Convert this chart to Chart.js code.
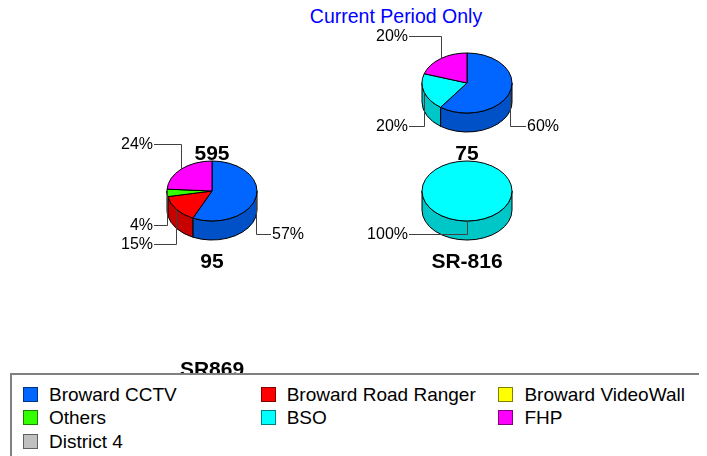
<!DOCTYPE html>
<html>
<head>
<meta charset="utf-8">
<script src="https://cdn.jsdelivr.net/npm/chart.js@4.4.1/dist/chart.umd.min.js"></script>
<style>
  body { margin: 0; background: #fff; font-family: "Liberation Sans", Arial, sans-serif; }
  #stage { position: relative; width: 707px; height: 456px; overflow: hidden; }
  #stage canvas { position: absolute; left: 0; top: 0; }
  #heading { position: absolute; left: 396px; top: 17px; transform: translate(-50%, -50%);
             color: #0000ff; font-size: 19.5px; line-height: 1; white-space: nowrap; }
  #legend { position: absolute; left: 10px; top: 373px; width: 687px; height: 100px;
            background: #fff; border-top: 2px solid #808080; border-left: 2px solid #808080; z-index: 5; }
  .item { position: absolute; height: 16px; white-space: nowrap; font-size: 19px; line-height: 16px; }
  .box { position: absolute; left: 0; top: 0; width: 15px; height: 15px; box-sizing: border-box; border: 1px solid; }
  .txt { position: absolute; left: 26px; top: 0; }
</style>
</head>
<body>
<div id="stage">
  <div id="heading">Current Period Only</div>
  <div id="legend"></div>
</div>
<script>
// who reported the incidents, shared by every pie
const categories = ['Broward CCTV', 'Broward Road Ranger', 'Broward VideoWall', 'Others', 'BSO', 'FHP', 'District 4'];
const colors = ['#0066ff', '#ff0000', '#ffff00', '#33ff00', '#00ffff', '#ff00ff', '#c0c0c0'];

// one pie per roadway (percent of incidents)
const roads = ['595', '75', '95', 'SR-816', 'SR869'];
const share595 = [];
const share75 = [60, 0, 0, 0, 20, 20, 0];
const share95 = [57, 15, 0, 4, 0, 24, 0];
const shareSR816 = [0, 0, 0, 0, 100, 0, 0];
const shareSR869 = [];

const W = 707, H = 456;
const TILT = 0.667, DEPTH = 19;
const FONT = '"Liberation Sans", Arial, sans-serif';

function shade(hex, f) {
  const n = parseInt(hex.slice(1), 16);
  const r = Math.round(((n >> 16) & 255) * f);
  const g = Math.round(((n >> 8) & 255) * f);
  const b = Math.round((n & 255) * f);
  return `rgb(${r},${g},${b})`;
}

// draws the arcs as a tilted 3D pie with leader-line labels and the road name below
const pie3d = {
  id: 'pie3d',
  beforeDatasetsDraw(chart, args, opts) {
    const ctx = chart.ctx;
    const area = chart.chartArea;
    const cx = (area.left + area.right) / 2;
    const cy = (area.top + area.bottom) / 2;
    const ds = chart.data.datasets[0];
    const values = ds.data;
    const total = values.reduce((a, b) => a + b, 0);
    const slices = [];
    chart.getDatasetMeta(0).data.forEach((arc, i) => {
      if (!values[i]) return;
      const p = arc.getProps(['startAngle', 'endAngle', 'outerRadius'], true);
      slices.push({ s: p.startAngle, e: p.endAngle, rx: p.outerRadius, color: ds.backgroundColor[i], value: values[i] });
    });

    ctx.save();
    ctx.lineWidth = 1;
    ctx.strokeStyle = '#000';

    if (slices.length) {
      const rx = slices[0].rx, ry = rx * TILT;

      // side walls on the front half
      slices.forEach(sl => {
        const a0 = Math.max(sl.s, 0), a1 = Math.min(sl.e, Math.PI);
        if (a1 <= a0) return;
        ctx.beginPath();
        ctx.ellipse(cx, cy, rx, ry, 0, a0, a1);
        ctx.lineTo(cx + rx * Math.cos(a1), cy + ry * Math.sin(a1) + DEPTH);
        ctx.ellipse(cx, cy + DEPTH, rx, ry, 0, a1, a0, true);
        ctx.closePath();
        ctx.fillStyle = shade(sl.color, 0.78);
        ctx.fill();
        ctx.stroke();
      });

      // top faces
      slices.forEach(sl => {
        ctx.beginPath();
        if (sl.e - sl.s >= Math.PI * 2 - 1e-6) {
          ctx.ellipse(cx, cy, rx, ry, 0, 0, Math.PI * 2);
        } else {
          ctx.moveTo(cx, cy);
          ctx.ellipse(cx, cy, rx, ry, 0, sl.s, sl.e);
          ctx.closePath();
        }
        ctx.fillStyle = sl.color;
        ctx.fill();
        ctx.stroke();
      });

      // percentage labels
      const groups = {};
      slices.forEach(sl => {
        const m = (sl.s + sl.e) / 2;
        const lab = {
          ax: cx + rx * Math.cos(m),
          ay: cy + ry * Math.sin(m),
          right: Math.cos(m) > 0.05,
          front: Math.sin(m) > 0,
          text: Math.round(sl.value / total * 100) + '%'
        };
        const key = (lab.right ? 'r' : 'l') + (lab.front ? 'f' : 'b');
        (groups[key] = groups[key] || []).push(lab);
      });
      ctx.font = '16px ' + FONT;
      ctx.textBaseline = 'middle';
      ctx.strokeStyle = '#404040';
      Object.values(groups).forEach(list => {
        list.sort((a, b) => a.ay - b.ay);
        list.forEach((lab, i) => {
          const base = lab.front ? cy + ry + 13 : cy - ry - 16.5;
          const ly = Math.round(base + (i - (list.length - 1) / 2) * 19) + 0.5;
          const ex = lab.right ? cx + 59 : cx - 58;
          const ax = Math.round(lab.ax) + 0.5;
          ctx.beginPath();
          ctx.moveTo(ax, lab.ay);
          ctx.lineTo(ax, ly);
          ctx.lineTo(ex, ly);
          ctx.stroke();
          ctx.fillStyle = '#000';
          ctx.textAlign = lab.right ? 'left' : 'right';
          ctx.fillText(lab.text, lab.right ? cx + 60 : cx - 59, ly);
        });
      });
    }

    // road name
    ctx.fillStyle = '#000';
    ctx.font = 'bold 21px ' + FONT;
    ctx.textAlign = 'center';
    ctx.textBaseline = 'alphabetic';
    ctx.fillText(opts.title, cx, cy + 77);
    ctx.restore();
    return false;
  }
};

function makePie(road, data, cx, cy) {
  const canvas = document.createElement('canvas');
  canvas.width = W;
  canvas.height = H;
  document.getElementById('stage').appendChild(canvas);
  new Chart(canvas, {
    type: 'pie',
    data: {
      labels: categories,
      datasets: [{ data: data, backgroundColor: colors, borderWidth: 0 }]
    },
    options: {
      responsive: false,
      animation: false,
      radius: 45,
      layout: { padding: { left: cx - 60, right: W - cx - 60, top: cy - 60, bottom: H - cy - 60 } },
      plugins: {
        legend: { display: false },
        tooltip: { enabled: false },
        pie3d: { title: road }
      }
    },
    plugins: [pie3d]
  });
}

makePie(roads[0], share595, 212, 83);
makePie(roads[1], share75, 467, 83);
makePie(roads[2], share95, 212, 191);
makePie(roads[3], shareSR816, 467, 191);
makePie(roads[4], shareSR869, 212, 299);

// shared legend, three columns
const legend = document.getElementById('legend');
categories.forEach((name, i) => {
  const col = i % 3, row = Math.floor(i / 3);
  const item = document.createElement('div');
  item.className = 'item';
  item.style.left = (11 + col * 237.7) + 'px';
  item.style.top = (12 + row * 23.3) + 'px';
  const box = document.createElement('div');
  box.className = 'box';
  box.style.background = colors[i];
  box.style.borderColor = shade(colors[i], 0.5);
  const txt = document.createElement('div');
  txt.className = 'txt';
  txt.textContent = name;
  item.appendChild(box);
  item.appendChild(txt);
  legend.appendChild(item);
});
</script>
</body>
</html>
